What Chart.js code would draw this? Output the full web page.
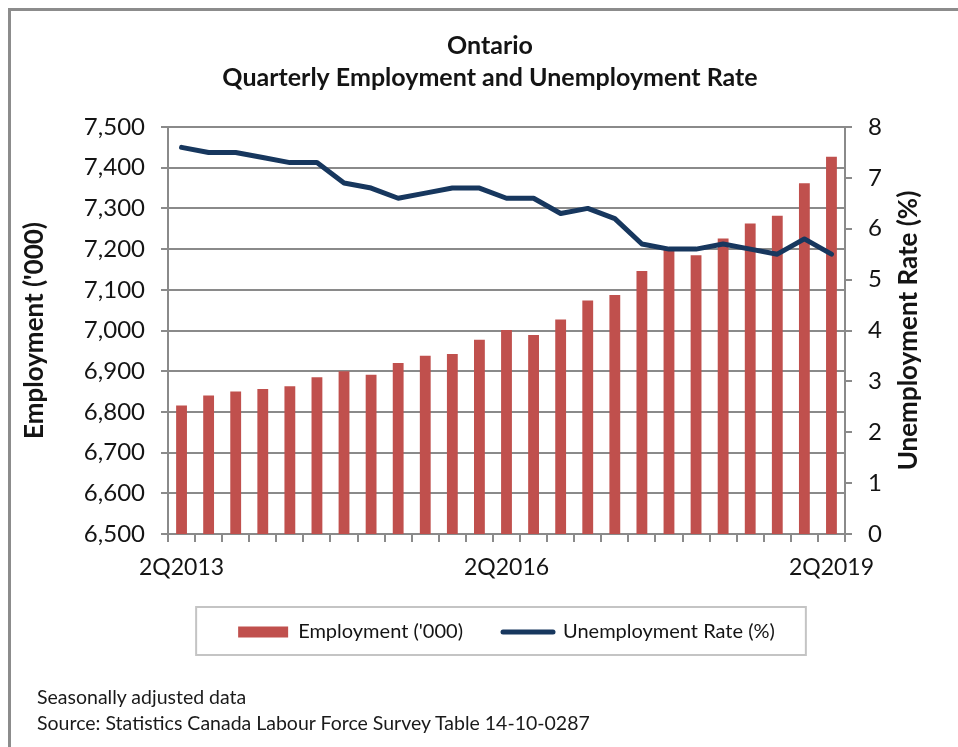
<!DOCTYPE html>
<html>
<head>
<meta charset="utf-8">
<title>Ontario Quarterly Employment and Unemployment Rate</title>
<script src="https://cdn.jsdelivr.net/npm/chart.js@4.4.1/dist/chart.umd.min.js"></script>
<style>
  html, body { margin: 0; padding: 0; background: #fff; overflow: hidden; }
  #wrap { position: relative; width: 958px; height: 747px; }
  #frame { position: absolute; left: 8px; top: 8px; width: 1000px; height: 1000px;
           border-left: 3px solid #8c8c8c; border-top: 3px solid #8c8c8c; }
  #chartBox { position: absolute; left: 0; top: 0; width: 958px; height: 747px; }
  .note { position: absolute; left: 37px; font-family: Lato, sans-serif; font-size: 19.5px;
          line-height: 24px; color: #1a1a1a; white-space: nowrap; }
</style>
</head>
<body>
<div id="wrap">
  <div id="frame"></div>
  <div id="chartBox"><canvas id="comboChart"></canvas></div>
  <div class="note" style="top: 685px;">Seasonally adjusted data</div>
  <div class="note" style="top: 711px;">Source: Statistics Canada Labour Force Survey Table 14-10-0287</div>
</div>
<script>
// Quarters, 2Q2013 to 2Q2019
const quarters = ['2Q2013', '3Q2013', '4Q2013', '1Q2014', '2Q2014', '3Q2014', '4Q2014',
    '1Q2015', '2Q2015', '3Q2015', '4Q2015', '1Q2016', '2Q2016', '3Q2016', '4Q2016',
    '1Q2017', '2Q2017', '3Q2017', '4Q2017', '1Q2018', '2Q2018', '3Q2018', '4Q2018',
    '1Q2019', '2Q2019'];
const labelledQuarters = ['2Q2013', '2Q2016', '2Q2019'];

// Employment ('000)
const employment = [6816, 6840, 6850, 6856, 6863, 6885, 6900, 6891, 6920, 6938, 6942, 6977,
    7001, 6989, 7027, 7074, 7087, 7146, 7198, 7185, 7226, 7263, 7282, 7362, 7427];

// Unemployment rate (%)
const unemploymentRate = [7.6, 7.5, 7.5, 7.4, 7.3, 7.3, 6.9, 6.8, 6.6, 6.7, 6.8, 6.8,
    6.6, 6.6, 6.3, 6.4, 6.2, 5.7, 5.6, 5.6, 5.7, 5.6, 5.5, 5.8, 5.5];

const employmentAxis = [6500, 7500, 100];
const rateAxis = [0, 8, 1];

const FONT = 'Lato, "Open Sans", sans-serif';
const TEXT = '#141414';
const GRID = '#8a8a8a';

// centre the legend under the plot area instead of the whole canvas
const legendShift = {
    id: 'legendShift',
    afterLayout(chart) {
        const lg = chart.legend;
        const d = (chart.chartArea.left + chart.chartArea.right) / 2 - (lg.left + lg.right) / 2;
        lg.left += d;
        lg.right += d;
    }
};

// grey frame round the legend items
const legendFrame = {
    id: 'legendFrame',
    afterDraw(chart) {
        const boxes = chart.legend.legendHitBoxes;
        if (!boxes || !boxes.length) return;
        const left = Math.min(...boxes.map(b => b.left)) - 42;
        const right = Math.max(...boxes.map(b => b.left + b.width)) + 31;
        const mid = boxes[0].top + boxes[0].height / 2;
        const ctx = chart.ctx;
        ctx.save();
        ctx.strokeStyle = '#c4c4c4';
        ctx.lineWidth = 2;
        ctx.strokeRect(left, mid - 25, right - left, 48);
        ctx.restore();
    }
};

// right axis title reads bottom to top, like the left one
const rightTitle = {
    id: 'rightTitle',
    afterDraw(chart, args, opts) {
        const s = chart.scales.y1;
        const ctx = chart.ctx;
        ctx.save();
        ctx.translate(s.right - opts.offset, (s.top + s.bottom) / 2);
        ctx.rotate(-Math.PI / 2);
        ctx.font = 'bold 26px ' + FONT;
        ctx.fillStyle = TEXT;
        ctx.textAlign = 'center';
        ctx.textBaseline = 'middle';
        ctx.fillText(opts.text, 0, 0);
        ctx.restore();
    }
};

const ctx = document.getElementById('comboChart').getContext('2d');

new Chart(ctx, {
    type: 'bar',
    data: {
        labels: quarters,
        datasets: [
            {
                type: 'bar',
                label: "Employment ('000)",
                data: employment,
                yAxisID: 'y',
                backgroundColor: '#c0504d',
                borderColor: '#c0504d',
                borderWidth: 0,
                barPercentage: 0.4,
                categoryPercentage: 1,
                order: 1
            },
            {
                type: 'line',
                label: 'Unemployment Rate (%)',
                data: unemploymentRate,
                yAxisID: 'y1',
                borderColor: '#17375e',
                backgroundColor: '#17375e',
                borderWidth: 5,
                borderJoinStyle: 'round',
                borderCapStyle: 'round',
                pointRadius: 0,
                tension: 0,
                order: 0
            }
        ]
    },
    options: {
        responsive: true,
        maintainAspectRatio: false,
        animation: false,
        layout: { padding: { left: 22, right: 0, top: 0, bottom: 95 } },
        plugins: {
            title: {
                display: true,
                text: ['Ontario', 'Quarterly Employment and Unemployment Rate'],
                color: TEXT,
                font: { family: FONT, size: 25, weight: 'bold', lineHeight: '32px' },
                padding: { top: 30, bottom: 33 }
            },
            legend: {
                position: 'bottom',
                labels: {
                    color: TEXT,
                    font: { family: FONT, size: 20 },
                    usePointStyle: true,
                    pointStyleWidth: 50,
                    boxHeight: 11,
                    padding: 40,
                    sort: (a, b) => a.datasetIndex - b.datasetIndex,
                    generateLabels: (chart) => Chart.defaults.plugins.legend.labels.generateLabels(chart).map(item => {
                        const ds = chart.data.datasets[item.datasetIndex];
                        item.pointStyle = ds.type === 'line' ? 'line' : 'rect';
                        item.lineCap = 'round';
                        item.lineWidth = ds.type === 'line' ? 5 : 0;
                        return item;
                    })
                }
            },
            tooltip: { enabled: false },
            rightTitle: { text: 'Unemployment Rate (%)', offset: 49 }
        },
        scales: {
            x: {
                grid: { drawOnChartArea: false, color: GRID, lineWidth: 2, tickLength: 8 },
                border: { color: GRID, width: 2 },
                ticks: {
                    autoSkip: false,
                    maxRotation: 0,
                    padding: 12,
                    color: TEXT,
                    font: { family: FONT, size: 23 },
                    callback: function (value) {
                        const label = this.getLabelForValue(value);
                        return labelledQuarters.includes(label) ? label : '';
                    }
                },
                afterFit: (scale) => { scale.height = 48; }
            },
            y: {
                position: 'left',
                min: employmentAxis[0],
                max: employmentAxis[1],
                grid: { color: GRID, lineWidth: 2, tickLength: 7 },
                border: { color: GRID, width: 2 },
                ticks: {
                    stepSize: employmentAxis[2],
                    padding: 16,
                    color: TEXT,
                    font: { family: FONT, size: 24 }
                },
                title: {
                    display: true,
                    text: "Employment ('000)",
                    color: TEXT,
                    font: { family: FONT, size: 26, weight: 'bold', lineHeight: 1 },
                    padding: { top: 0, bottom: 0 }
                },
                afterFit: (scale) => { scale.width = 146; }
            },
            y1: {
                position: 'right',
                min: rateAxis[0],
                max: rateAxis[1],
                grid: { drawOnChartArea: false, color: GRID, lineWidth: 2, tickLength: 7 },
                border: { color: GRID, width: 2 },
                ticks: {
                    stepSize: rateAxis[2],
                    padding: 16,
                    color: TEXT,
                    font: { family: FONT, size: 24 }
                },
                afterFit: (scale) => { scale.width = 113; }
            }
        }
    },
    plugins: [legendShift, legendFrame, rightTitle]
});
</script>
</body>
</html>
